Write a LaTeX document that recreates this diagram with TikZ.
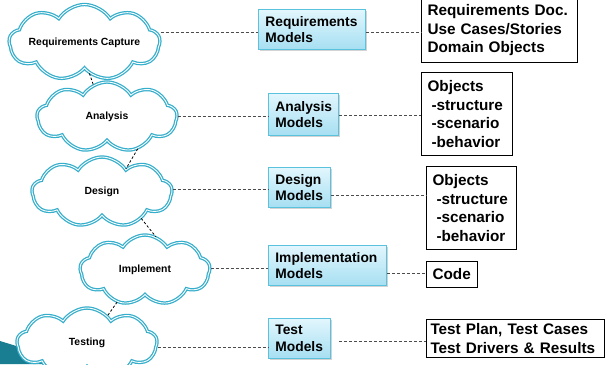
\documentclass[tikz,border=0pt]{standalone}
\usepackage{fontspec}
\setmainfont{Liberation Sans}
\usetikzlibrary{shapes.symbols,shadows,calc}
\definecolor{cloudc}{HTML}{35AECB}
\definecolor{boxtop}{HTML}{E2F6FD}
\definecolor{boxbot}{HTML}{A6DFF2}
\definecolor{boxline}{HTML}{5BC2DE}
\definecolor{tealc}{HTML}{1A7E93}
\begin{document}
\begin{tikzpicture}[x=1pt,y=-1pt,
  cloudn/.style={cloud, cloud puffs=9, cloud puff arc=115, cloud ignores aspect, draw=cloudc, line width=1.25pt, double=white, double distance=0.9pt, fill=white, font=\fontsize{10.4}{12}\selectfont\bfseries, inner sep=0pt},
  model/.style={draw=boxline, line width=0.8pt, top color=boxtop, bottom color=boxbot, drop shadow={shadow xshift=1.5pt, shadow yshift=-1.5pt, opacity=0.35}, align=left, anchor=north west, inner xsep=7pt, inner ysep=0pt, font=\fontsize{13.8}{16.5}\selectfont\bfseries},
  outbox/.style={draw=black, line width=1pt, fill=white, align=left, anchor=north west, inner xsep=6pt, inner ysep=0pt, font=\fontsize{15.3}{18.5}\selectfont\bfseries},
  conn/.style={draw=black!70, dash pattern=on 3pt off 2pt, line width=0.8pt},
  cconn/.style={draw=black, dash pattern=on 2.5pt off 2pt, line width=0.8pt}]
\useasboundingbox (0,0) rectangle (612,364);
\fill[tealc] (0,341) -- (75,364) -- (0,364) -- cycle;

% clouds
\node[cloudn, minimum width=145pt, minimum height=76pt] (c1) at (84.5,42.5) {Requirements Capture};
\node[cloudn, minimum width=140pt, minimum height=70pt] (c2) at (107,117) {Analysis};
\node[cloudn, minimum width=140pt, minimum height=70pt] (c3) at (102,192) {Design};
\node[cloudn, minimum width=130pt, minimum height=70pt] (c4) at (145,270) {Implement};
\node[cloudn, minimum width=140pt, minimum height=70pt] (c5) at (87,343) {Testing};

% model boxes
\node[model, text width=93pt, minimum height=40pt] (m1) at (258,9) {Requirements\\Models};
\node[model, text width=56pt, minimum height=42pt] (m2) at (268,93) {Analysis\\Models};
\node[model, text width=48pt, minimum height=40pt] (m3) at (268,167) {Design\\Models};
\node[model, text width=104pt, minimum height=40pt] (m4) at (268,245) {Implementation\\Models};
\node[model, text width=48pt, minimum height=40pt] (m5) at (268,318) {Test\\Models};

% output boxes
\node[outbox, text width=144pt, minimum height=64pt] (o1) at (421,-2) {Requirements Doc.\\Use Cases/Stories\\Domain Objects};
\node[outbox, text width=79pt, minimum height=83pt] (o2) at (421,72) {Objects\\\hspace*{4pt}-structure\\\hspace*{4pt}-scenario\\\hspace*{4pt}-behavior};
\node[outbox, text width=78pt, minimum height=83pt] (o3) at (426,166) {Objects\\\hspace*{4pt}-structure\\\hspace*{4pt}-scenario\\\hspace*{4pt}-behavior};
\node[outbox, text width=39pt, minimum height=26pt] (o4) at (426,261) {Code};
\node[outbox, inner xsep=4pt, text width=170pt, minimum height=38pt] (o5) at (426,319) {\mbox{Test Plan, Test Cases}\\\mbox{Test Drivers \& Results}};

% cloud to cloud
\draw[cconn] (c1.-81) -- (c2.113);
\draw[cconn] (c2.-46) -- (c3.44);
\draw[cconn] (c3.-34) -- (c4.72);
\draw[cconn] (c4.-131) -- (c5.53);

% cloud to model
\draw[conn] (c1.east |- 0,32) -- (m1.west |- 0,32);
\draw[conn] (c2.east |- 0,116) -- (m2.west |- 0,116);
\draw[conn] (c3.east |- 0,189) -- (m3.west |- 0,189);
\draw[conn] (c4.east |- 0,268) -- (m4.west |- 0,268);
\draw[conn] (c5.east |- 0,347) -- (m5.west |- 0,347);

% model to output
\draw[conn] (m1.east |- 0,32) -- (o1.west |- 0,32);
\draw[conn] (m2.east |- 0,115) -- (o2.west |- 0,115);
\draw[conn] (m3.east |- 0,195) -- (o3.west |- 0,195);
\draw[conn] (m4.east |- 0,273) -- (o4.west |- 0,273);
\draw[conn] ([xshift=8pt]m5.east |- 0,341) -- (o5.west |- 0,341);
\end{tikzpicture}
\end{document}
